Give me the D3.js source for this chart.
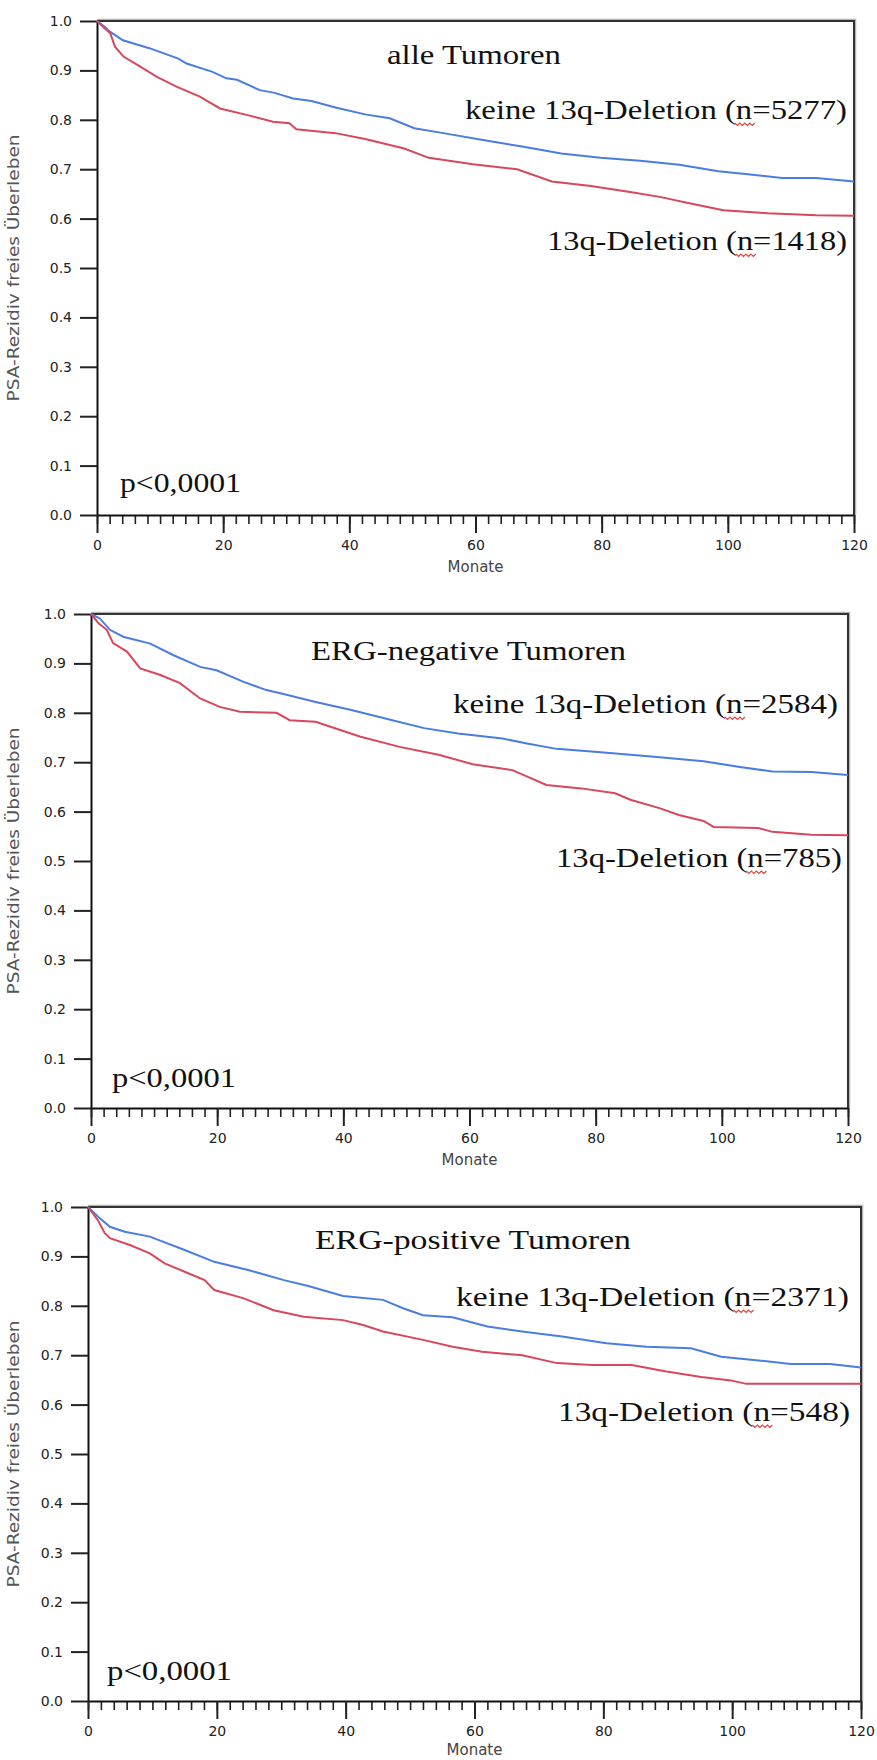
<!DOCTYPE html>
<html lang="de">
<head>
<meta charset="UTF-8">
<title>PSA-Rezidiv freies Überleben</title>
<script src="https://cdn.jsdelivr.net/npm/d3@7"></script>
<style>
  body { margin: 0; background: #fff; }
  svg { display: block; }
</style>
</head>
<body>
<svg width="877" height="1760"></svg>
<script>
// tick labels
const monthTicks = [0, 20, 40, 60, 80, 100, 120];
const minorMonthTicks = d3.range(0, 121, 2);
const survTicks = [0, 0.1, 0.2, 0.3, 0.4, 0.5, 0.6, 0.7, 0.8, 0.9, 1.0];

// texts
const panelTitles = ["alle Tumoren", "ERG-negative Tumoren", "ERG-positive Tumoren"];
const keineLabels = ["keine 13q-Deletion (n=5277)", "keine 13q-Deletion (n=2584)", "keine 13q-Deletion (n=2371)"];
const delLabels = ["13q-Deletion (n=1418)", "13q-Deletion (n=785)", "13q-Deletion (n=548)"];
const pLabels = ["p<0,0001", "p<0,0001", "p<0,0001"];

// [Monate, Überleben]
const alleKeine = [[0,1],[1.27,0.988],[2.1,0.978],[4.1,0.961],[8.3,0.945],[12.9,0.924],[14.2,0.914],[18.3,0.897],
  [20.5,0.884],[22.2,0.881],[25.8,0.860],[28,0.855],[31.1,0.843],[34,0.838],[37.8,0.825],[42.5,0.811],[46.4,0.803],[50.3,0.783],
  [54.9,0.773],[61.2,0.759],[67.4,0.746],[73.6,0.732],[79.8,0.723],[86.1,0.717],[92.3,0.709],[98.5,0.696],
  [103.2,0.690],[108.6,0.682],[114,0.682],[120,0.675]];
const alleDel = [[0,1],[1.0,0.988],[2.1,0.975],[2.85,0.948],[4.2,0.928],[6.8,0.908],[9.5,0.887],[12.6,0.867],
  [16.3,0.847],[19.5,0.823],[23.7,0.810],[27.9,0.796],[30.5,0.793],[31.6,0.781],[37.8,0.773],[42.5,0.761],
  [48.7,0.742],[52.6,0.723],[59.6,0.710],[66.6,0.700],[72.1,0.675],[78.3,0.666],[84.5,0.654],[89.2,0.644],
  [93.9,0.631],[99.3,0.617],[106.3,0.611],[114,0.607],[120,0.606]];

const negKeine = [[0,1],[1.4,0.991],[3.0,0.968],[5.1,0.954],[9.4,0.940],[13.0,0.917],[17.3,0.893],[19.9,0.886],
  [24.1,0.863],[27.8,0.846],[30.2,0.839],[35.6,0.822],[41.1,0.806],[46.5,0.789],[52.8,0.769],[58.2,0.758],
  [65.2,0.748],[69.1,0.738],[73.8,0.727],[80.8,0.720],[89.3,0.711],[97.1,0.702],[102.6,0.691],[108.0,0.681],
  [114.2,0.680],[120,0.674]];
const negDel = [[0,1],[1.2,0.981],[2.5,0.968],[3.5,0.941],[5.7,0.924],[7.8,0.890],[10.9,0.877],[14.1,0.860],
  [17.3,0.829],[20.4,0.812],[23.6,0.802],[29.4,0.800],[31.5,0.785],[35.6,0.782],[42.6,0.752],[48.9,0.731],
  [55.1,0.715],[60.5,0.696],[66.8,0.684],[72.2,0.654],[77.7,0.647],[83.1,0.637],[85.5,0.624],[90.1,0.607],
  [93.2,0.593],[97.1,0.581],[98.7,0.569],[105.7,0.567],[108,0.559],[114.2,0.553],[120,0.552]];

const posKeine = [[0,1],[1.85,0.977],[3.4,0.960],[5.7,0.950],[9.6,0.940],[15.0,0.913],[19.6,0.889],[25.0,0.872],
  [30.4,0.852],[34.2,0.840],[39.6,0.820],[45.8,0.812],[48.9,0.795],[52.0,0.781],[56.6,0.777],[62.0,0.758],
  [67.4,0.748],[73.6,0.738],[80.5,0.724],[86.7,0.717],[93.6,0.714],[98.3,0.697],[103.7,0.690],[109.1,0.682],
  [115.2,0.682],[120,0.675]];
const posDel = [[0,1],[1.5,0.974],[2.6,0.947],[3.4,0.937],[6.5,0.923],[9.6,0.906],[11.9,0.886],[15.0,0.869],
  [18.1,0.852],[19.6,0.832],[24.2,0.815],[28.8,0.791],[33.5,0.778],[39.6,0.771],[42.7,0.761],[45.8,0.748],
  [52.0,0.731],[56.6,0.717],[61.2,0.707],[67.4,0.700],[72.8,0.684],[78.2,0.680],[84.4,0.680],[89.8,0.667],
  [95.2,0.656],[99.8,0.649],[102.2,0.642],[120,0.642]];

const blue = "#4a7de3", red = "#d8475b";
const serif = "'Liberation Serif', 'Times New Roman', serif";
const sans = "'DejaVu Sans', Verdana, sans-serif";

// layout: plot box and label spots [x, baseline, width]
const panels = [
  { l: 97, r: 854, t: 21, b: 515, keine: alleKeine, del: alleDel,
    title: [387, 64, 174], kl: [465, 119, 382], dl: [547, 250, 300], pl: [120, 492, 121] },
  { l: 91, r: 848, t: 614, b: 1108, keine: negKeine, del: negDel,
    title: [311, 660, 315], kl: [453, 713, 385], dl: [556, 867, 286], pl: [112, 1087, 124] },
  { l: 88, r: 861, t: 1207, b: 1701, keine: posKeine, del: posDel,
    title: [315, 1249, 316], kl: [456, 1306, 393], dl: [558, 1421, 292], pl: [107, 1680, 125] }
];

const svg = d3.select("svg");

function fitText(g, txt, spot, size) {
  return g.append("text")
    .attr("x", spot[0]).attr("y", spot[1])
    .attr("textLength", spot[2]).attr("lengthAdjust", "spacingAndGlyphs")
    .style("font-family", serif).style("font-size", size + "px")
    .style("fill", "#111")
    .text(txt);
}

function squiggle(g, textSel, txt) {
  const idx = txt.indexOf("(n") + 1;
  const ext = textSel.node().getExtentOfChar(idx);
  const y0 = ext.y + ext.height - 2;
  const x0 = ext.x - 1, x1 = ext.x + ext.width + 3;
  let d = "M" + x0 + "," + y0;
  let up = true;
  for (let x = x0 + 2.5; x <= x1 + 0.1; x += 2.5) {
    d += " L" + x + "," + (up ? y0 + 2.5 : y0);
    up = !up;
  }
  g.append("path").attr("d", d).attr("fill", "none")
    .attr("stroke", "#e8403a").attr("stroke-width", 1.1);
}

panels.forEach((p, i) => {
  const g = svg.append("g");
  const x = d3.scaleLinear().domain([0, 120]).range([p.l, p.r]);
  const y = d3.scaleLinear().domain([0, 1]).range([p.b, p.t]);

  // frame top / right with soft shadow
  g.append("path")
    .attr("d", `M${p.l},${p.t - 1.5}H${p.r + 1.5}V${p.b}`)
    .attr("fill", "none").attr("stroke", "#b5b5b5").attr("stroke-width", 1.5);
  g.append("path")
    .attr("d", `M${p.l},${p.t}H${p.r}V${p.b}`)
    .attr("fill", "none").attr("stroke", "#333").attr("stroke-width", 2);

  // y axis
  const yAx = g.append("g").attr("transform", `translate(${p.l},0)`)
    .call(d3.axisLeft(y).tickValues(survTicks).tickSize(17).tickSizeOuter(0)
      .tickPadding(8).tickFormat(d3.format(".1f")));
  yAx.select(".domain").attr("stroke", "#111").attr("stroke-width", 2);
  yAx.selectAll(".tick line").attr("stroke", "#222").attr("stroke-width", 2);
  yAx.selectAll(".tick text").style("font-family", sans).style("font-size", "14px")
    .style("fill", "#222");

  // x axis, minor then major
  const xMin = g.append("g").attr("transform", `translate(0,${p.b})`)
    .call(d3.axisBottom(x).tickValues(minorMonthTicks).tickSize(9).tickSizeOuter(0).tickFormat(""));
  xMin.select(".domain").remove();
  xMin.selectAll(".tick line").attr("stroke", "#222").attr("stroke-width", 1.6);

  const xAx = g.append("g").attr("transform", `translate(0,${p.b})`)
    .call(d3.axisBottom(x).tickValues(monthTicks).tickSize(18).tickSizeOuter(0).tickPadding(7));
  xAx.select(".domain").attr("stroke", "#111").attr("stroke-width", 2);
  xAx.selectAll(".tick line").attr("stroke", "#222").attr("stroke-width", 2);
  xAx.selectAll(".tick text").style("font-family", sans).style("font-size", "14px")
    .style("fill", "#222");

  g.append("text")
    .attr("x", (p.l + p.r) / 2).attr("y", Math.min(p.b + 57, 1755))
    .attr("text-anchor", "middle")
    .style("font-family", sans).style("font-size", "15px").style("fill", "#444")
    .text("Monate");

  g.append("text")
    .attr("transform", `translate(19,${(p.t + p.b) / 2}) rotate(-90)`)
    .attr("text-anchor", "middle")
    .attr("textLength", 267).attr("lengthAdjust", "spacingAndGlyphs")
    .style("font-family", sans).style("font-size", "16px").style("fill", "#555")
    .text("PSA-Rezidiv freies Überleben");

  // survival curves
  const line = d3.line().x(d => x(d[0])).y(d => y(d[1]));
  g.append("path").attr("d", line(p.keine))
    .attr("fill", "none").attr("stroke", blue).attr("stroke-width", 2);
  g.append("path").attr("d", line(p.del))
    .attr("fill", "none").attr("stroke", red).attr("stroke-width", 2);

  // labels
  fitText(g, panelTitles[i], p.title, 27);
  const k = fitText(g, keineLabels[i], p.kl, 28);
  squiggle(g, k, keineLabels[i]);
  const dl = fitText(g, delLabels[i], p.dl, 28);
  squiggle(g, dl, delLabels[i]);
  fitText(g, pLabels[i], p.pl, 28);
});
</script>
</body>
</html>
